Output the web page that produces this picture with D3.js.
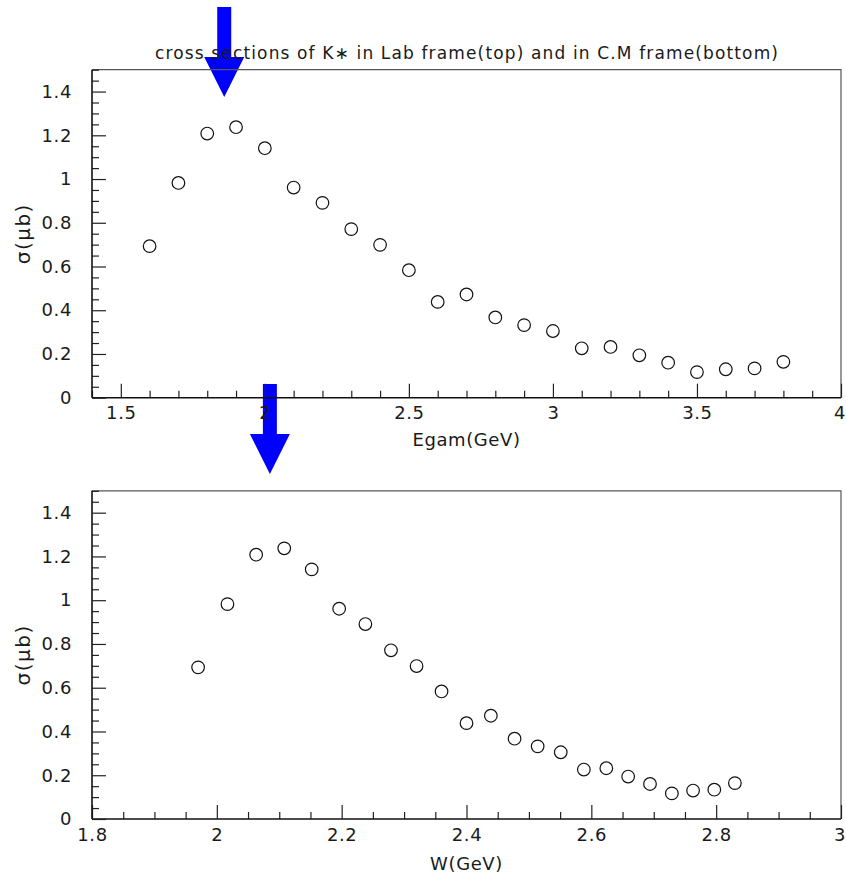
<!DOCTYPE html>
<html>
<head>
<meta charset="utf-8">
<script src="https://cdn.jsdelivr.net/npm/d3@7"></script>
<style>
  html, body { margin: 0; padding: 0; background: #fff; }
  svg { display: block; }
  text { font-family: "DejaVu Sans", sans-serif; fill: #1a1a1a; }
</style>
</head>
<body>
<script>
// K* photoproduction cross sections, lab frame (photon energy) and CM frame (W)
const egam   = [1.6, 1.7, 1.8, 1.9, 2.0, 2.1, 2.2, 2.3, 2.4, 2.5, 2.6, 2.7, 2.8, 2.9, 3.0, 3.1, 3.2, 3.3, 3.4, 3.5, 3.6, 3.7, 3.8];
const wcm    = [1.970, 2.017, 2.063, 2.108, 2.152, 2.196, 2.238, 2.279, 2.320, 2.360, 2.400, 2.439, 2.477, 2.514, 2.551, 2.588, 2.624, 2.659, 2.694, 2.729, 2.763, 2.797, 2.830];
const sigma  = [0.693, 0.982, 1.208, 1.237, 1.141, 0.961, 0.891, 0.771, 0.699, 0.583, 0.438, 0.472, 0.367, 0.332, 0.305, 0.226, 0.232, 0.194, 0.160, 0.117, 0.130, 0.134, 0.164];

const yTicks       = [0, 0.2, 0.4, 0.6, 0.8, 1.0, 1.2, 1.4];
const yTickLabels  = ["0", "0.2", "0.4", "0.6", "0.8", "1", "1.2", "1.4"];
const eTicks       = [1.5, 2.0, 2.5, 3.0, 3.5, 4.0];
const eTickLabels  = ["1.5", "2", "2.5", "3", "3.5", "4"];
const wTicks       = [1.8, 2.0, 2.2, 2.4, 2.6, 2.8, 3.0];
const wTickLabels  = ["1.8", "2", "2.2", "2.4", "2.6", "2.8", "3"];

const titleText = "cross sections of K\u2217 in Lab frame(top) and in C.M frame(bottom)";
const yTitle = "\u03c3(\u03bcb)";

// arrow annotations: the same photon energy marked in both frames
const arrowEgam = 1.859;
const arrowW = 2.085;

const W = 846, H = 875;
const FONT = '"DejaVu Sans", sans-serif';
const svg = d3.select("body").append("svg").attr("width", W).attr("height", H);

const left = 92, right = 841;
const panels = [
  { x: egam, xDomain: [1.4, 4.0], top: 69.7, bottom: 397.7, ticks: eTicks, labels: eTickLabels,
    minorStep: 0.1, xTitle: "Egam(GeV)", titleBase: 446 },
  { x: wcm, xDomain: [1.8, 3.0], top: 490.8, bottom: 819, ticks: wTicks, labels: wTickLabels,
    minorStep: 0.05, xTitle: "W(GeV)", titleBase: 870 }
];
panels.forEach(p => {
  p.xs = d3.scaleLinear().domain(p.xDomain).range([left, right]);
  p.ys = d3.scaleLinear().domain([0, 1.5]).range([p.bottom, p.top]);
});

// arrows sit underneath the frames and texts
const arrowLayer = svg.append("g");
function arrow(xPix, tipY) {
  const shaftW = 14, headW = 40, headL = 40, shaftL = 50;
  const pts = [
    [xPix - shaftW / 2, tipY - headL - shaftL],
    [xPix + shaftW / 2, tipY - headL - shaftL],
    [xPix + shaftW / 2, tipY - headL],
    [xPix + headW / 2, tipY - headL],
    [xPix, tipY],
    [xPix - headW / 2, tipY - headL],
    [xPix - shaftW / 2, tipY - headL]
  ];
  arrowLayer.append("path").attr("d", d3.line()(pts) + "Z").attr("fill", "#0000ff");
}
arrow(panels[0].xs(arrowEgam), panels[0].ys(1.375));
arrow(panels[1].xs(arrowW), panels[1].bottom - 345);

function range(a, b, step) {
  const out = [];
  const n = Math.round((b - a) / step);
  for (let i = 0; i <= n; i++) out.push(+(a + i * step).toFixed(4));
  return out;
}

panels.forEach(p => {
  const g = svg.append("g");

  // frame (top and right)
  g.append("path")
    .attr("d", `M${left},${p.top}H${right}V${p.bottom}`)
    .attr("fill", "none").attr("stroke", "#555").attr("stroke-width", 1.2);

  // minor ticks
  const xMinor = range(p.xDomain[0], p.xDomain[1], p.minorStep).filter(v => !p.ticks.some(t => Math.abs(t - v) < 1e-6));
  const yMinor = range(0, 1.5, 0.05).filter(v => !yTicks.some(t => Math.abs(t - v) < 1e-6));

  const xMinorAxis = d3.axisBottom(p.xs).tickValues(xMinor).tickSize(-7).tickFormat("");
  const yMinorAxis = d3.axisLeft(p.ys).tickValues(yMinor).tickSize(-7).tickFormat("");
  g.append("g").attr("transform", `translate(0,${p.bottom})`).call(xMinorAxis)
    .call(s => s.select(".domain").remove())
    .selectAll("line").attr("stroke", "#222").attr("stroke-width", 1.2);
  g.append("g").attr("transform", `translate(${left},0)`).call(yMinorAxis)
    .call(s => s.select(".domain").remove())
    .selectAll("line").attr("stroke", "#222").attr("stroke-width", 1.2);

  // major ticks with labels
  const xAxis = d3.axisBottom(p.xs).tickValues(p.ticks)
    .tickFormat((d, i) => p.labels[i]).tickSizeInner(-14).tickSizeOuter(0).tickPadding(9);
  const yAxis = d3.axisLeft(p.ys).tickValues(yTicks)
    .tickFormat((d, i) => yTickLabels[i]).tickSizeInner(-14).tickSizeOuter(0).tickPadding(20);

  const xg = g.append("g").attr("transform", `translate(0,${p.bottom})`).call(xAxis);
  const yg = g.append("g").attr("transform", `translate(${left},0)`).call(yAxis);
  [xg, yg].forEach(a => {
    a.select(".domain").attr("stroke", "#111").attr("stroke-width", 1.6);
    a.selectAll(".tick line").attr("stroke", "#222").attr("stroke-width", 1.2);
    a.selectAll(".tick text").attr("font-size", 18).attr("fill", "#1a1a1a")
      .attr("letter-spacing", 0.6).style("font-family", FONT);
  });
  // keep the label at the right frame edge inside the page
  xg.selectAll(".tick text").filter((d, i, n) => i === n.length - 1)
    .attr("text-anchor", "end").attr("dx", 4).attr("letter-spacing", 0);
  xg.select(".domain").attr("d", `M${left},0H${right}`);
  yg.select(".domain").attr("d", `M0,${p.bottom}V${p.top}`);

  // axis titles
  g.append("text").attr("x", (left + right) / 2).attr("y", p.titleBase)
    .attr("text-anchor", "middle").attr("font-size", 18).attr("letter-spacing", 0.6).text(p.xTitle);
  g.append("text")
    .attr("transform", `translate(30,${(p.top + p.bottom) / 2}) rotate(-90)`)
    .attr("text-anchor", "middle").attr("font-size", 20).attr("letter-spacing", 1.5).text(yTitle);

  // data points
  g.append("g").selectAll("circle").data(sigma).join("circle")
    .attr("cx", (d, i) => p.xs(p.x[i]))
    .attr("cy", d => p.ys(d))
    .attr("r", 6.3)
    .attr("fill", "none").attr("stroke", "#111").attr("stroke-width", 1.2);
});

// title
svg.append("text").attr("x", 155).attr("y", 59)
  .attr("textLength", 623).attr("lengthAdjust", "spacing")
  .attr("font-size", 17).text(titleText);
</script>
</body>
</html>
